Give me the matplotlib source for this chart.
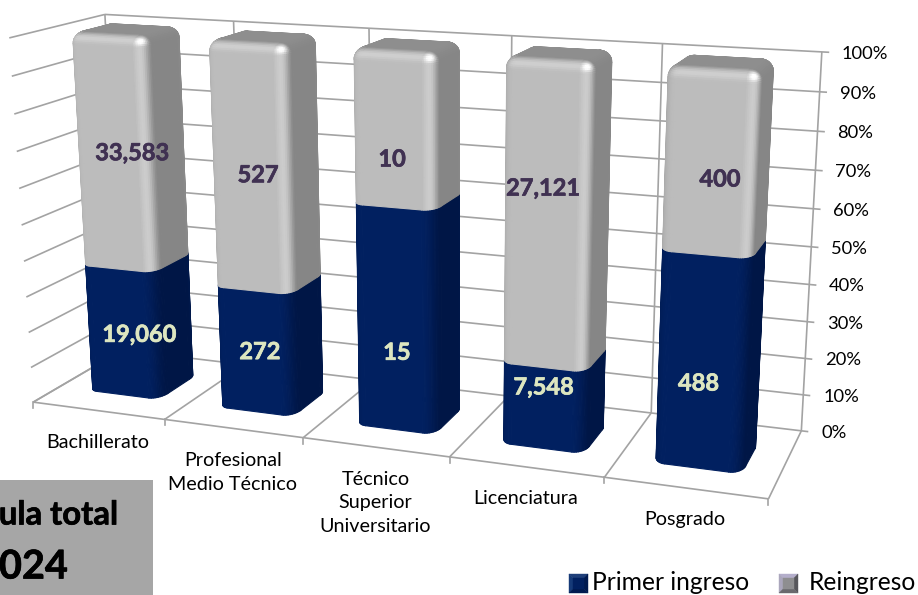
import numpy as np
import matplotlib
matplotlib.use('Agg')
import matplotlib.pyplot as plt
import matplotlib.patheffects as pe
from matplotlib.collections import PolyCollection
from matplotlib.patches import Polygon, Rectangle

plt.rcParams['font.family'] = ['Lato', 'DejaVu Sans']

categories = ['Bachillerato', 'Profesional\nMedio Técnico', 'Técnico\nSuperior\nUniversitario',
              'Licenciatura', 'Posgrado']
primer_ingreso = [19060, 272, 15, 7548, 488]
reingreso = [33583, 527, 10, 27121, 400]
pct_ticks = [0, 10, 20, 30, 40, 50, 60, 70, 80, 90, 100]
series_names = ['Primer ingreso', 'Reingreso']
caption_lines = ['ula total', '024']

W, H = 918, 595

# chart frame as seen in the picture: (category, depth, share) -> pixel
frame_3d = [(0, 1, 1), (1, 1, 1), (2, 1, 1), (3, 1, 1), (4, 1, 1), (5, 1, 1),
            (5, 1, 0), (0, 1, 0), (0, 0, 1),
            (0, 0, 0), (1, 0, 0), (2, 0, 0), (3, 0, 0), (4, 0, 0), (5, 0, 0)]
frame_px = [(104, 14), (233, 21), (368, 28), (512, 36), (663, 44), (822, 52),
            (801, 431), (124, 350), (11, 38),
            (32, 402), (164, 420), (303, 438), (450, 457), (604, 477), (769, 498)]

# data labels sit off centre in the original
low_label_shift = [(20, 2), (7, 0), (4, 32), (2, -21), (-2, 20)]
high_label_shift = [(22, -1), (11, 6), (1, 29), (-1, -29), (12, 16)]


def fit_camera(pts3, pts2):
    rows = []
    for (x, y, z), (u, v) in zip(pts3, pts2):
        rows.append([x, y, z, 1, 0, 0, 0, 0, -u * x, -u * y, -u * z, -u])
        rows.append([0, 0, 0, 0, x, y, z, 1, -v * x, -v * y, -v * z, -v])
    return np.linalg.svd(np.array(rows, float))[2][-1].reshape(3, 4)


CAM = fit_camera(frame_3d, frame_px)


def project(x, y, z):
    p = CAM @ np.array([x, y, z, 1.0])
    return p[0] / p[2], p[1] / p[2]


def shade(n, pal):
    nx, ny, nz = n
    front = ny ** 2 if ny < 0 else 0
    back = ny ** 2 if ny > 0 else 0
    right = nx ** 2 if nx > 0 else 0
    left = nx ** 2 if nx < 0 else 0
    top = nz ** 2 if nz > 0 else 0
    under = nz ** 2 if nz < 0 else 0
    c = (front * pal['front'] + right * pal['side'] + left * pal['left']
         + (top + back) * pal['top'] + under * pal['under'])
    c = c + 4 * front * (right + top) * pal['glow'] + 27 * front * right * top * pal['spot']
    return tuple(np.clip(c / 255, 0, 1))


def rounded_bar(ax, cat, z0, z1, pal, round_top, round_bottom, zorder=3):
    x0, x1 = cat + BAR_X[0], cat + BAR_X[1]
    y0, y1 = BAR_Y
    centres = [(x1 - RX, y0 + RY, -90), (x1 - RX, y1 - RY, 0),
               (x0 + RX, y1 - RY, 90), (x0 + RX, y0 + RY, 180)]
    phis = [(cx, cy, np.radians(a + t)) for cx, cy, a in centres for t in np.linspace(0, 90, 13)]

    levels = []
    if round_bottom:
        levels += [(z0 + RZ - RZ * np.cos(t), -np.sin(t), np.cos(t))
                   for t in np.radians(np.linspace(90, 0, 7))]
    else:
        levels.append((z0, 0.0, 1.0))
    if round_top:
        levels += [(z1 - RZ + RZ * np.sin(t), np.sin(t), np.cos(t))
                   for t in np.radians(np.linspace(0, 90, 11))]
    else:
        levels.append((z1, 0.0, 1.0))

    rings, normals = [], []
    for z, nz, k in levels:
        ring, nring = [], []
        for cx, cy, phi in phis:
            ring.append(project(cx + RX * np.cos(phi) * k, cy + RY * np.sin(phi) * k, z))
            nring.append((np.cos(phi) * k, np.sin(phi) * k, nz))
        rings.append(np.array(ring))
        normals.append(np.array(nring))

    polys, colors = [], []
    m = len(phis)
    for i in range(len(rings) - 1):
        for j in range(m):
            j2 = (j + 1) % m
            q = np.array([rings[i][j], rings[i][j2], rings[i + 1][j2], rings[i + 1][j]])
            xs, ys = q[:, 0], q[:, 1]
            area = np.sum(xs * np.roll(ys, -1) - np.roll(xs, -1) * ys)
            if area >= 0:
                continue
            n = (normals[i][j] + normals[i][j2] + normals[i + 1][j2] + normals[i + 1][j]) / 4
            n = n / np.linalg.norm(n)
            polys.append(q)
            colors.append(shade(n, pal))
    if round_top:
        polys.append(rings[-1])
        colors.append(shade((0, 0, 1), pal))
    ax.add_collection(PolyCollection(polys, facecolors=colors, edgecolors=colors,
                                     linewidths=0.8, zorder=zorder))


# bar footprint inside one category slot
BAR_X = (0.215, 0.775)
BAR_Y = (0.28, 0.76)
RX, RY, RZ = 0.08, 0.11, 0.03

GREY = dict(front=np.array([188, 188, 188.]), side=np.array([134, 134, 134.]),
            left=np.array([165, 165, 165.]), top=np.array([142, 142, 142.]),
            under=np.array([150, 150, 150.]), glow=np.array([38, 38, 38.]),
            spot=np.array([75, 75, 75.]))
BLUE = dict(front=np.array([1, 32, 96.]), side=np.array([0, 22, 70.]),
            left=np.array([1, 28, 84.]), top=np.array([0, 26, 80.]),
            under=np.array([0, 20, 64.]), glow=np.array([0, 0, 0.]),
            spot=np.array([0, 0, 0.]))

GRID = '#a3a3a3'
fig = plt.figure(figsize=(W / 100, H / 100), dpi=100)
ax = fig.add_axes([0, 0, 1, 1])
ax.set_xlim(0, W)
ax.set_ylim(H, 0)
ax.axis('off')


def grid_line(a, b):
    pa, pb = project(*a), project(*b)
    ax.plot([pa[0], pb[0]], [pa[1], pb[1]], color=GRID, lw=1.2, zorder=1, solid_capstyle='butt')


n_cat = len(categories)
for p in pct_ticks:
    z = p / 100
    grid_line((0, 0, z), (0, 1, z))
    grid_line((0, 1, z), (5.045, 1, z))
    u, v = project(5, 1, z)
    ax.text(u + 20, v + 2, f'{p}%', fontsize=13.2, color='black', ha='left', va='center')
for i in range(n_cat + 1):
    grid_line((i, 1, 0), (i, 1, 1))
    grid_line((i, 0, 0), (i, 1, 0))
    u, v = project(i, 0, 0)
    ax.plot([u, u], [v, v + 6], color=GRID, lw=1.2, zorder=1)
grid_line((0, 0, 0), (5, 0, 0))


def bold_text(x, y, s, size, color, ha='center'):
    t = ax.text(x, y, s, fontsize=size, fontweight='bold', color=color, ha=ha, va='center', zorder=5)
    t.set_path_effects([pe.withStroke(linewidth=0.5, foreground=color)])


for i, name in enumerate(categories):
    total = primer_ingreso[i] + reingreso[i]
    share = primer_ingreso[i] / total
    rounded_bar(ax, i, 0, share, BLUE, False, True)
    rounded_bar(ax, i, share, 1, GREY, True, False)

    mid_x = i + (BAR_X[0] + BAR_X[1]) / 2
    u, v = project(mid_x, BAR_Y[0], share / 2)
    du, dv = low_label_shift[i]
    bold_text(u + du, v + dv, f'{primer_ingreso[i]:,}', 17, '#dde6c0')
    u, v = project(mid_x, BAR_Y[0], (share + 1) / 2)
    du, dv = high_label_shift[i]
    bold_text(u + du, v + dv, f'{reingreso[i]:,}', 17, '#403152')

    u, v = project(i + 0.5, 0, 0)
    ax.text(u, v + 23.5, name, fontsize=14.2, color='black', ha='center', va='top',
            linespacing=1.48, zorder=5)


def swatch(x, y, s, inset, top, left, right, bottom, mid):
    a, b = x + inset, y + inset
    c, d = x + s - inset, y + s - inset
    faces = [([(x, y), (x + s, y), (c, b), (a, b)], top),
             ([(x, y), (a, b), (a, d), (x, y + s)], left),
             ([(x + s, y), (x + s, y + s), (c, d), (c, b)], right),
             ([(x, y + s), (a, d), (c, d), (x + s, y + s)], bottom),
             ([(a, b), (c, b), (c, d), (a, d)], mid)]
    for pts, col in faces:
        ax.add_patch(Polygon(pts, facecolor=col, edgecolor=col, lw=0.3, zorder=4))


swatch(569, 574, 19, 4, '#1f3f7a', '#163a78', '#001a50', '#001a50', '#012060')
swatch(779, 574, 19, 4, '#b4aecb', '#aaa6bc', '#57575c', '#6a6a6e', '#8e8e90')
ax.text(592, 583, series_names[0], fontsize=17.7, color='black', ha='left', va='center')
ax.text(809, 583, series_names[1], fontsize=17.7, color='black', ha='left', va='center')

# caption box, only the end of it is in the picture
ax.add_patch(Rectangle((0, 480), 153, 115, facecolor='#a6a6a6', edgecolor='none', zorder=4))
bold_text(117.5, 515, caption_lines[0], 23.6, 'black', ha='right')
bold_text(68, 567, caption_lines[1], 28.5, 'black', ha='right')

fig.savefig('out.png', dpi=100)
